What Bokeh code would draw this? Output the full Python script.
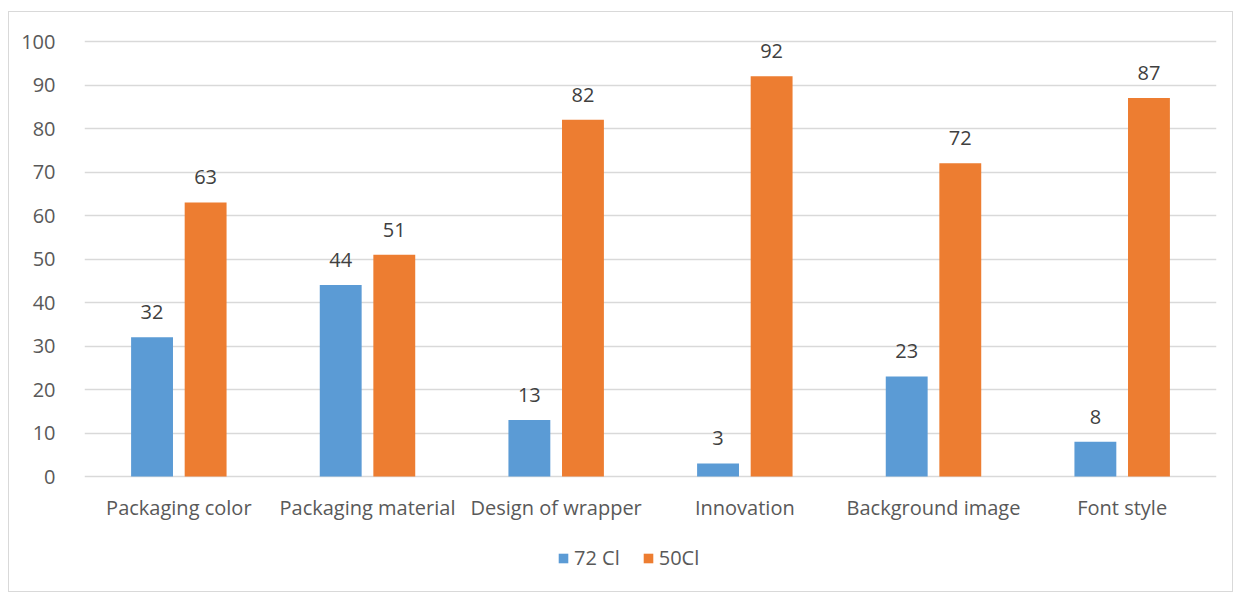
from bokeh.plotting import figure
from bokeh.models import FactorRange, Range1d, ColumnDataSource, Legend, LegendItem, FixedTicker, LabelSet
from bokeh.core.properties import value
from bokeh.transform import dodge
from bokeh.embed import file_html
from bokeh.resources import INLINE

categories = ["Packaging color", "Packaging material", "Design of wrapper", "Innovation", "Background image", "Font style"]
series_72 = [32, 44, 13, 3, 23, 8]
series_50 = [63, 51, 82, 92, 72, 87]
series_names = ["72 Cl", "50Cl"]
colors = ["#5B9BD5", "#ED7D31"]
y_ticks = [0, 10, 20, 30, 40, 50, 60, 70, 80, 90, 100]

src = ColumnDataSource(dict(
    cat=categories,
    zero=[0] * len(categories),
    v72=series_72,
    v50=series_50,
    t72=[str(v) for v in series_72],
    t50=[str(v) for v in series_50],
))

FONT = "Open Sans"
FS = "20px"

PX_PER_UNIT = 4.35          # 100 units = 435 px
EXTRA_TOP_PX = 21           # frame space above 100
EXTRA_BOTTOM_PX = 117       # frame space below 0 (labels + legend)

p = figure(
    x_range=FactorRange(*categories, range_padding=0),
    y_range=Range1d(-EXTRA_BOTTOM_PX / PX_PER_UNIT, 100 + EXTRA_TOP_PX / PX_PER_UNIT),
    width=1225, height=581,
    output_backend="svg", toolbar_location=None, x_axis_location=None,
    min_border_left=75, min_border_right=18, min_border_top=8, min_border_bottom=0,
)
p.margin = (11, 0, 0, 8)
p.styles = {"border": "1px solid #d9d9d9", "box-sizing": "border-box"}
p.outline_line_color = None
p.background_fill_color = "white"
p.border_fill_color = "white"

r1 = p.vbar(x=dodge("cat", -0.142, range=p.x_range), top="v72", width=0.222, source=src,
            fill_color=colors[0], line_color=None)
r2 = p.vbar(x=dodge("cat", 0.142, range=p.x_range), top="v50", width=0.222, source=src,
            fill_color=colors[1], line_color=None)

for col, t, off in [("v72", "t72", -0.142), ("v50", "t50", 0.142)]:
    ls = LabelSet(x=dodge("cat", off, range=p.x_range), y=col, text=t, source=src,
                  text_align="center", text_baseline="middle", y_offset=25,
                  text_font_size=value(FS), text_color="#404040", text_font=value(FONT))
    p.add_layout(ls)

cat_labels = LabelSet(x="cat", y="zero", text="cat", source=src,
                      text_align="center", text_baseline="middle", y_offset=-31,
                      text_font_size=value(FS), text_color="#595959", text_font=value(FONT))
p.add_layout(cat_labels)

p.yaxis.ticker = FixedTicker(ticks=y_ticks)
p.ygrid.ticker = FixedTicker(ticks=y_ticks)
p.xgrid.grid_line_color = None
p.ygrid.grid_line_color = "#d9d9d9"
p.ygrid.grid_line_width = 1.5

ax = p.yaxis[0]
ax.axis_line_color = None
ax.major_tick_line_color = None
ax.minor_tick_line_color = None
ax.major_label_text_font = FONT
ax.major_label_text_font_size = FS
ax.major_label_text_color = "#595959"
ax.major_label_standoff = 23

legend = Legend(items=[LegendItem(label=series_names[0], renderers=[r1]),
                       LegendItem(label=series_names[1], renderers=[r2])],
                orientation="horizontal", location=(473, 22),
                glyph_width=12, glyph_height=12, label_text_font=FONT,
                label_text_font_size=FS, label_text_color="#595959",
                border_line_color=None, background_fill_alpha=0, spacing=22,
                label_standoff=5, padding=0, margin=0)
p.add_layout(legend)

open("out.html", "w").write(file_html(p, INLINE))
